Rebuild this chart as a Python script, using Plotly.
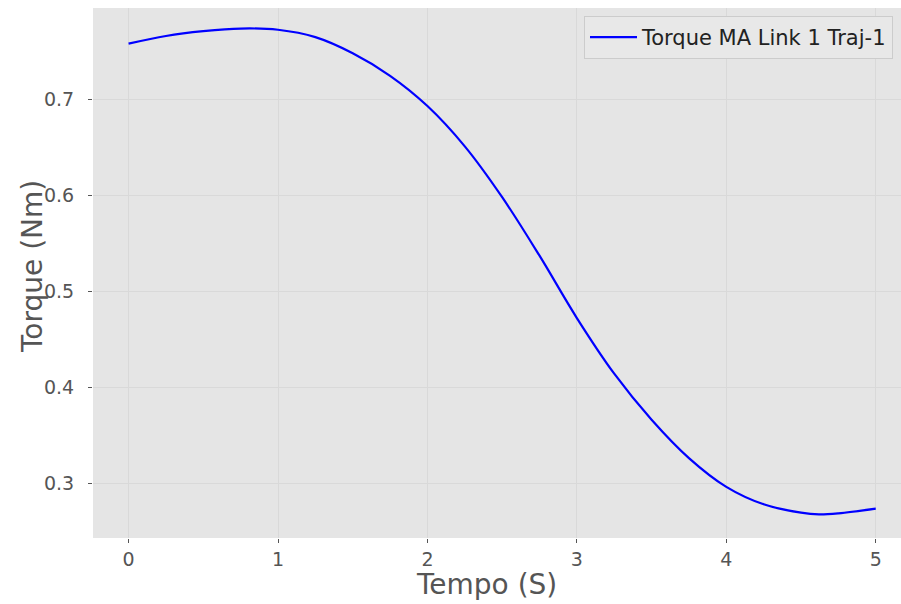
import plotly.graph_objects as go

tempo = [0.0, 0.25, 0.5, 0.75, 1.0, 1.25, 1.5, 1.75, 2.0, 2.25, 2.5, 2.75,
         3.0, 3.25, 3.5, 3.75, 4.0, 4.25, 4.5, 4.62, 4.75, 5.0]
torque = [0.758, 0.766, 0.771, 0.7738, 0.7725, 0.7648, 0.748, 0.7245, 0.693,
          0.651, 0.598, 0.537, 0.472, 0.414, 0.366, 0.326, 0.296, 0.2778,
          0.2691, 0.2673, 0.2684, 0.2733]
series_name = "Torque MA Link 1 Traj-1"
x_ticks = [0, 1, 2, 3, 4, 5]
y_ticks = [0.3, 0.4, 0.5, 0.6, 0.7]

W, H = 901, 604
L, R, T, B = 93, 0, 8, 66

fig = go.Figure()
fig.add_trace(go.Scatter(
    x=tempo, y=torque, mode="lines", name=series_name,
    line=dict(color="#0000ff", width=2.2, shape="spline", smoothing=1.0),
))

font_family = "DejaVu Sans"
pw = W - L - R
ph = H - T - B

fig.update_layout(
    width=W, height=H,
    margin=dict(l=L, r=R, t=T, b=B, pad=0),
    paper_bgcolor="white",
    plot_bgcolor="#e5e5e5",
    font=dict(family=font_family, color="#555555", size=19),
    showlegend=True,
    legend=dict(
        x=(893 - L) / pw, y=1 - (16 - T) / ph, xanchor="right", yanchor="top",
        bgcolor="#e8e8e8", bordercolor="#cccccc", borderwidth=1,
        font=dict(size=21, color="#222222", family=font_family),
        itemwidth=47,
    ),
    xaxis=dict(
        range=[-0.238, 5.169], tickvals=x_ticks,
        ticktext=[str(v) for v in x_ticks],
        showgrid=True, gridcolor="#d9d9d9", gridwidth=1,
        zeroline=False, showline=False,
        ticks="outside", ticklen=4, tickcolor="#555555", tickwidth=1,
        ticklabelstandoff=0,
    ),
    yaxis=dict(
        range=[0.2427, 0.7952], tickvals=y_ticks,
        ticktext=[f"{v:.1f}" for v in y_ticks],
        showgrid=True, gridcolor="#d9d9d9", gridwidth=1,
        zeroline=False, showline=False,
        ticks="outside", ticklen=4, tickcolor="#555555", tickwidth=1,
        ticklabelstandoff=10,
    ),
)

fig.add_annotation(
    text="Tempo (S)", xref="paper", yref="paper",
    x=(486 - L) / pw, y=-(584 - (H - B)) / ph,
    showarrow=False, xanchor="center", yanchor="middle",
    font=dict(size=28, color="#555555", family=font_family),
)
fig.add_annotation(
    text="Torque (Nm)", xref="paper", yref="paper",
    x=-(L - 32) / pw, y=1 - (267 - T) / ph,
    showarrow=False, xanchor="center", yanchor="middle", textangle=-90,
    font=dict(size=28, color="#555555", family=font_family),
)

fig.write_html(
    "out.html",
    config={"displayModeBar": False},
    post_script="document.body.style.margin='0px';document.body.style.overflow='hidden';",
)
